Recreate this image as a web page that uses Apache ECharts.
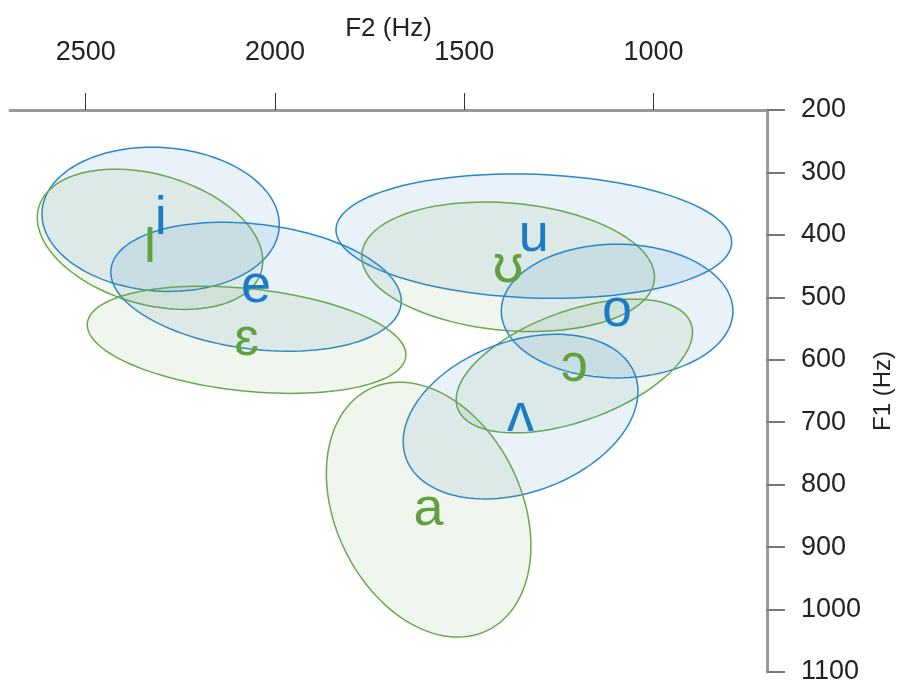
<!DOCTYPE html>
<html><head><meta charset="utf-8">
<script src="https://cdn.jsdelivr.net/npm/echarts@6/dist/echarts.min.js"></script>
<style>html,body{margin:0;padding:0;background:#fff}#c{width:900px;height:687px}</style>
</head><body><div id="c"></div>
<script>
// Vowel ellipses: centre (F2, F1 in Hz), semi-axes (Hz), tilt (deg, screen clockwise)
const vowels   = ['i', 'ɪ', 'e', 'ɛ', 'u', 'ʊ', 'o', 'ɔ', 'ʌ', 'a'];
const groups   = ['blue', 'green', 'blue', 'green', 'blue', 'green', 'blue', 'green', 'blue', 'green'];
const centerF2 = [2302, 2330, 2050, 2075, 1316, 1384, 1096, 1209, 1351, 1594];
const centerF1 = [375, 407, 483, 568, 402, 451, 522, 610, 691, 840];
const radiusF2 = [314, 306, 386, 423, 523, 388, 306, 328, 322, 355];
const radiusF1 = [115, 104, 100, 82, 99, 102, 107, 88, 121, 149];
const tilt     = [4, 16, 7, 6, 2, 5, 0, -20, -20, 64];
const f2Ticks  = [2500, 2000, 1500, 1000];

const FONT = '"Liberation Sans", Arial, "DejaVu Sans", sans-serif';
const colors = {
  blue:  { stroke: '#2a87cc', fill: 'rgba(40,125,200,0.10)', text: '#1a7cc6' },
  green: { stroke: '#6aa84f', fill: 'rgba(105,160,75,0.10)', text: '#5ea13d' }
};

const ellipseData = vowels.map((v, i) => [centerF2[i], centerF1[i], radiusF2[i], radiusF1[i], tilt[i], i]);

function renderEllipse(params, api) {
  const c = api.coord([api.value(0), api.value(1)]);
  const s = api.size([api.value(2), api.value(3)]);
  const a = Math.abs(s[0]), b = Math.abs(s[1]);
  const th = api.value(4) * Math.PI / 180;
  const idx = api.value(5);
  const pts = [];
  const N = 120;
  for (let k = 0; k < N; k++) {
    const t = 2 * Math.PI * k / N;
    const x = a * Math.cos(t), y = b * Math.sin(t);
    pts.push([c[0] + x * Math.cos(th) - y * Math.sin(th), c[1] + x * Math.sin(th) + y * Math.cos(th)]);
  }
  const col = colors[groups[idx]];
  return {
    type: 'polygon',
    shape: { points: pts },
    style: { fill: col.fill, stroke: col.stroke, lineWidth: 1.5 }
  };
}

function renderLabel(params, api) {
  const c = api.coord([api.value(0), api.value(1)]);
  const idx = api.value(5);
  const col = colors[groups[idx]];
  const isSmallCapI = vowels[idx] === 'ɪ';
  return {
    type: 'text',
    x: c[0], y: c[1],
    scaleY: isSmallCapI ? 1.3 : 1,
    style: {
      text: vowels[idx], fill: col.text,
      font: isSmallCapI ? '54px Lato, ' + FONT : '54px ' + FONT,
      align: 'center', verticalAlign: 'middle'
    }
  };
}

const chart = echarts.init(document.getElementById('c'), null, { renderer: 'canvas' });
chart.setOption({
  animation: false,
  backgroundColor: '#fff',
  grid: { left: 10, right: 133, top: 110, bottom: 15, containLabel: false, outerBoundsMode: 'none' },
  xAxis: {
    type: 'value', position: 'top', inverse: true, min: 700, max: 2700,
    name: 'F2 (Hz)', nameLocation: 'middle', nameGap: 68, nameMoveOverlap: false,
    nameTextStyle: { fontSize: 26, color: '#222', fontFamily: FONT },
    axisLine: { show: true, onZero: false, lineStyle: { color: '#999', width: 3 } },
    axisTick: { show: true, inside: false, length: 17, customValues: f2Ticks, lineStyle: { color: '#333', width: 1 } },
    axisLabel: { show: true, customValues: f2Ticks, margin: 44, fontSize: 27, color: '#222', fontFamily: FONT,
      formatter: v => String(v) },
    splitLine: { show: false }
  },
  yAxis: {
    type: 'value', position: 'right', inverse: true, min: 200, max: 1100, interval: 100,
    name: 'F1 (Hz)', nameLocation: 'middle', nameGap: 104, nameMoveOverlap: false,
    nameTextStyle: { fontSize: 24, color: '#222', fontFamily: FONT },
    axisLine: { show: true, onZero: false, lineStyle: { color: '#999', width: 3 } },
    axisTick: { show: true, inside: false, length: 18, lineStyle: { color: '#777', width: 2 } },
    axisLabel: { show: true, margin: 34, fontSize: 27, color: '#222', fontFamily: FONT,
      formatter: v => String(v) },
    splitLine: { show: false }
  },
  series: [
    { type: 'custom', renderItem: renderEllipse, data: ellipseData, z: 2, silent: true, clip: false },
    { type: 'custom', renderItem: renderLabel, data: ellipseData, z: 5, silent: true, clip: false }
  ]
});
</script></body></html>
